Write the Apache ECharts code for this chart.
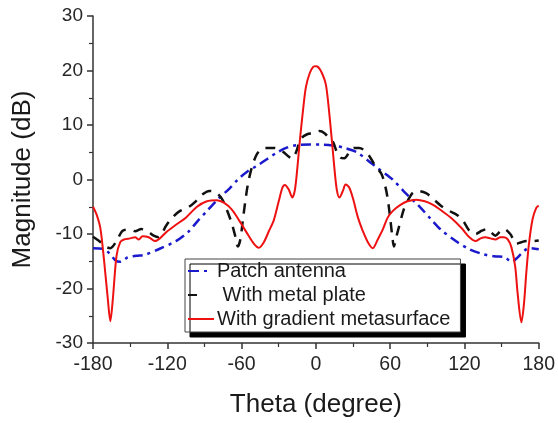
<!DOCTYPE html>
<html>
<head>
<meta charset="utf-8">
<script src="https://cdn.jsdelivr.net/npm/echarts@6/dist/echarts.min.js"></script>
<style>
html,body{margin:0;padding:0;background:#fff;}
#c{width:558px;height:423px;}
</style>
</head>
<body>
<div id="c"></div>
<script>
// Tick labels
var xTicks = [-180, -120, -60, 0, 60, 120, 180];
var yTicks = [-30, -20, -10, 0, 10, 20, 30];

// Patch antenna (blue dash-dot)
var patchTheta = [-180,-172,-167,-162,-158,-152,-145,-138,-127,-113,-103,-95,-88,-79,-70,-63,-55,-47,-39,-31,-23,-15,-5,5,15,23,33,42,51,62,72,83,93,101,113,124,135,144,152,158,162,166,172,180];
var patchMag   = [-12.6,-12.7,-13.5,-14.8,-15.1,-14.3,-14,-13.8,-12.8,-11.3,-9.6,-7.5,-5.8,-3.6,-1.7,0,1.5,2.6,3.8,5,5.9,6.3,6.4,6.4,6.2,5.8,5,3.5,1.9,0,-2.4,-4.8,-7.3,-9.2,-11.3,-12.8,-13.7,-14.1,-14.2,-15.1,-14.5,-13.6,-12.6,-12.8];

// With metal plate (black dashed)
var plateTheta = [-180,-175,-170,-166,-161,-156,-150,-146,-141,-136,-131,-127,-121,-116,-110,-103,-97,-92,-86,-81,-76,-72,-68,-65,-63,-61,-59,-57,-55,-52,-48,-44,-39,-34,-29,-26,-22,-19,-16,-12,-7,-2,3,7,11,14,17,20,23,27,31,35,40,44,48,53,56,58,60,62,63,65,67,71,74,78,82,89,95,101,108,114,119,124,129,134,138,141.5,145,149,152,157,162,166,170,175,180];
var plateMag   = [-10.5,-11.3,-12.3,-12.6,-11.3,-9.4,-9.2,-9.5,-9.1,-9.5,-10.3,-10.6,-8.5,-7,-5.8,-5.1,-4,-2.8,-2.1,-2.3,-3.5,-5.5,-8,-10.5,-12.3,-11,-7.5,-4,-1,2,4.5,5.6,5.8,5.8,5.5,5,4.2,3.8,5,7.5,8.3,8.5,8.9,8.5,7.5,6.8,5,4,3.9,5,5.8,5.8,5.2,4,2.5,1,-1.2,-3.5,-7,-11,-12.3,-10.5,-8.8,-5.5,-4,-2.5,-2.1,-2.5,-3.6,-4.8,-5.8,-6.5,-7.6,-9.4,-10,-9.4,-9.1,-9.7,-10.3,-9.5,-9.1,-10,-11.8,-11.5,-11.3,-11.3,-11.2];

// With gradient metasurface (red solid)
var metaTheta = [-180,-177,-174,-171,-168,-166,-164,-161,-158,-155,-150,-146,-143,-140,-135,-130,-126,-120,-113,-105,-96,-88,-80,-74,-68,-62,-56,-50,-46,-42,-38,-34,-30,-27,-25,-22,-19,-17,-15,-13,-10,-8,-5,-2,0,2,5,8,10,13,15,17,19,22,24,27,30,34,38,42,46,50,54,58,62,68,74,81,88,95,102,110,118,124,129,133,137,141,145,149,152,155,158,161,163,166,168,170,172,175,178,180];
var metaMag   = [-5,-6.5,-9,-15,-22,-26,-22,-14,-11.5,-11,-10.8,-10.6,-11,-10.4,-10.6,-11.3,-10.8,-9.5,-8.3,-7,-5,-4,-3.8,-4.3,-5.5,-7.5,-9.7,-11.8,-12.5,-11.5,-9.5,-7.5,-4,-1.5,-1,-1.8,-3.3,-2,2,7,13.5,17,19.5,20.7,20.8,20.6,19.5,17.5,14,7,2,-2,-3.3,-2,-0.9,-1.5,-3.5,-7,-9.5,-11.5,-12.6,-11,-9.2,-7,-5.8,-4.7,-4,-3.7,-4,-4.7,-5.8,-7.2,-9,-10.6,-11.3,-10.8,-10.6,-10.8,-11,-10.6,-10.6,-11,-12.5,-16,-21,-26.2,-23,-17,-12,-7.3,-5.2,-4.8];

var seriesNames = ['Patch antenna', ' With metal plate', 'With gradient metasurface'];

function pairs(xs, ys){ return xs.map(function(x,i){ return [x, ys[i]]; }); }

var chart = echarts.init(document.getElementById('c'), null, {renderer:'canvas'});
var axisFont = 'Liberation Sans, Arial, sans-serif';
chart.setOption({
  animation:false,
  backgroundColor:'#ffffff',
  grid:{left:93, right:15, top:16, bottom:80, containLabel:false},
  xAxis:{
    type:'value', min:xTicks[0], max:xTicks[xTicks.length-1], interval:60,
    name:'Theta (degree)', nameLocation:'middle', nameGap:49,
    nameTextStyle:{fontFamily:axisFont, fontSize:26, color:'#1a1a1a'},
    axisLine:{show:true, onZero:false, lineStyle:{color:'#333', width:1.5}},
    axisTick:{show:true, inside:false, length:6, lineStyle:{color:'#333', width:1.5}},
    minorTick:{show:true, splitNumber:2, length:4, lineStyle:{color:'#333', width:1.2}},
    splitLine:{show:false},
    axisLabel:{fontFamily:axisFont, fontSize:19.5, color:'#262626', margin:12}
  },
  yAxis:{
    type:'value', min:yTicks[0], max:yTicks[yTicks.length-1], interval:10,
    name:'Magnitude (dB)', nameLocation:'middle', nameGap:57, nameRotate:90,
    nameTextStyle:{fontFamily:axisFont, fontSize:26, color:'#1a1a1a'},
    axisLine:{show:true, onZero:false, lineStyle:{color:'#333', width:1.5}},
    axisTick:{show:true, inside:false, length:6, lineStyle:{color:'#333', width:1.5}},
    minorTick:{show:true, splitNumber:2, length:4, lineStyle:{color:'#333', width:1.2}},
    splitLine:{show:false},
    axisLabel:{fontFamily:axisFont, fontSize:19, color:'#262626', margin:10}
  },
  legend:{
    orient:'vertical', left:185, top:259,
    backgroundColor:'#ffffff', borderColor:'#444', borderWidth:1,
    shadowColor:'#000', shadowBlur:0.01, shadowOffsetX:5, shadowOffsetY:5,
    padding:[2,10,3,2], itemGap:4, itemWidth:26, itemHeight:14,
    itemStyle:{opacity:0},
    textStyle:{fontFamily:axisFont, fontSize:20, color:'#1a1a1a', padding:[0,0,0,-2]},
    data:[
      {name:seriesNames[0], lineStyle:{type:[11,5,3,20]}},
      {name:seriesNames[1], lineStyle:{type:[9,40]}},
      {name:seriesNames[2]}
    ]
  },
  series:[
    {name:seriesNames[0], type:'line', data:pairs(patchTheta, patchMag), symbol:'none', smooth:0.3,
     lineStyle:{color:'#1a1acc', width:2.5, type:[10,5,3,5]}, itemStyle:{color:'#1a1acc'}, z:2},
    {name:seriesNames[1], type:'line', data:pairs(plateTheta, plateMag), symbol:'none', smooth:0.3,
     lineStyle:{color:'#111', width:2.5, type:[10,8]}, itemStyle:{color:'#111'}, z:3},
    {name:seriesNames[2], type:'line', data:pairs(metaTheta, metaMag), symbol:'none', smooth:0.3,
     lineStyle:{color:'#ee1111', width:2}, itemStyle:{color:'#ee1111'}, z:4}
  ]
});
</script>
</body>
</html>
